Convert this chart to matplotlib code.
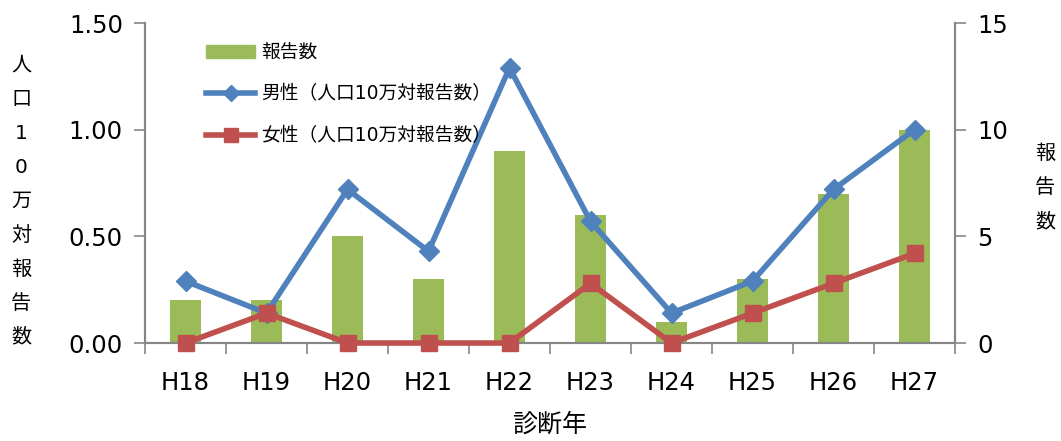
import matplotlib
matplotlib.use("Agg")
import matplotlib.pyplot as plt
from matplotlib.patches import Patch
from matplotlib.lines import Line2D

plt.rcParams['font.family'] = ['DejaVu Sans', 'Noto Sans CJK JP']

years = ["H18", "H19", "H20", "H21", "H22", "H23", "H24", "H25", "H26", "H27"]
reports = [2, 2, 5, 3, 9, 6, 1, 3, 7, 10]
male_rate = [0.29, 0.14, 0.72, 0.43, 1.29, 0.57, 0.14, 0.29, 0.72, 1.00]
female_rate = [0.00, 0.14, 0.00, 0.00, 0.00, 0.28, 0.00, 0.14, 0.28, 0.42]

green = "#9BBB59"
blue = "#4F81BD"
red = "#C0504D"
axis_gray = "#868686"

fig = plt.figure(figsize=(10.61, 4.41), dpi=100)
ax = fig.add_axes([0.1367, 0.2222, 0.7634, 0.7256])
ax2 = ax.twinx()

x = list(range(len(years)))

# report counts on the right-hand axis
ax2.bar(x, reports, width=0.38, color=green, zorder=1)
ax2.set_ylim(0, 15)
ax2.set_yticks([0, 5, 10, 15])

# per-100k rates on the left-hand axis, drawn above the bars
ax.set_zorder(ax2.get_zorder() + 1)
ax.patch.set_visible(False)
ax.plot(x, male_rate, color=blue, lw=4, marker="D", ms=10,
        mfc=blue, mec=blue, clip_on=False, zorder=3)
ax.plot(x, female_rate, color=red, lw=4, marker="s", ms=11,
        mfc=red, mec=red, clip_on=False, zorder=4)
ax.set_ylim(0, 1.5)
ax.set_yticks([0, 0.5, 1.0, 1.5])
ax.set_yticklabels(["0.00", "0.50", "1.00", "1.50"])
ax.set_xlim(-0.5, len(years) - 0.5)

ax.set_xticks(x)
ax.set_xticklabels(years)
ax.set_xticks([i - 0.5 for i in range(len(years) + 1)], minor=True)
ax.tick_params(axis="x", which="major", length=0, pad=20, labelsize=17.5)
ax.tick_params(axis="x", which="minor", length=8, width=1.2, color=axis_gray, direction="out")
ax.tick_params(axis="y", length=8, width=1.2, color=axis_gray, direction="out",
               labelsize=17.5, pad=8)
ax2.tick_params(axis="y", length=8, width=1.2, color=axis_gray, direction="out",
                labelsize=17.5, pad=8)

for a in (ax, ax2):
    a.spines["top"].set_visible(False)
    for s in ("left", "right", "bottom"):
        a.spines[s].set_color(axis_gray)
        a.spines[s].set_linewidth(1.5)

ax.set_xlabel("診断年", fontsize=18, labelpad=13)

# stacked vertical axis titles
fig.text(0.020, 0.544, "\n".join("人口10万対報告数"), ha="center", va="center",
         fontsize=14.5, linespacing=2.0)
fig.text(0.985, 0.574, "\n".join("報告数"), ha="center", va="center",
         fontsize=14.5, linespacing=2.0)

handles = [
    Patch(facecolor=green, edgecolor=green),
    Line2D([], [], color=blue, lw=4, marker="D", ms=8),
    Line2D([], [], color=red, lw=4, marker="s", ms=10),
]
labels = ["報告数", "男性（人口10万対報告数）", "女性（人口10万対報告数）"]
ax.legend(handles, labels, loc="upper left", bbox_to_anchor=(0.055, 0.99),
          frameon=False, fontsize=13.5, labelspacing=1.2, handlelength=2.6,
          handletextpad=0.3)

fig.savefig("out.png", dpi=100)
